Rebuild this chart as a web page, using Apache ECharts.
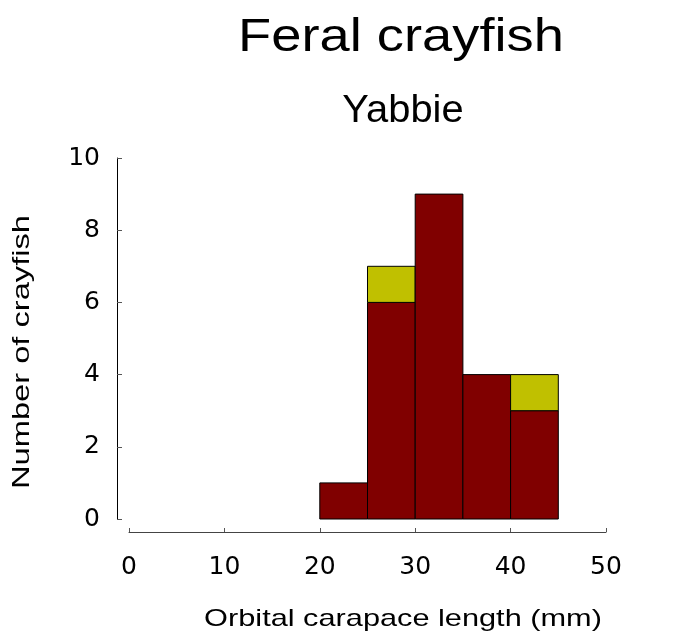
<!DOCTYPE html>
<html>
<head>
<meta charset="utf-8">
<script src="https://cdn.jsdelivr.net/npm/echarts@6/dist/echarts.min.js"></script>
<style>
html,body{margin:0;padding:0;background:#fff;}
#chart{width:688px;height:635px;}
</style>
</head>
<body>
<div id="chart"></div>
<script>
// ---- data ----
var titleText = 'Feral crayfish';
var subtitleText = 'Yabbie';
var xAxisName = 'Orbital carapace length (mm)';
var yAxisName = 'Number of crayfish';
var binStarts = [20, 25, 30, 35, 40];
var binWidth = 5;
var countsRed = [1, 6, 9, 4, 3];
var countsYellow = [0, 1, 0, 0, 1];
var xTicks = [0, 10, 20, 30, 40, 50];
var yTicks = [0, 2, 4, 6, 8, 10];

var redColor = '#800000';
var yellowColor = '#c0c000';

// build stacked rect items: [x0, x1, base, top, colorIndex]
var rects = [];
binStarts.forEach(function (s, i) {
  rects.push([s, s + binWidth, 0, countsRed[i], 0]);
  if (countsYellow[i] > 0) {
    rects.push([s, s + binWidth, countsRed[i], countsRed[i] + countsYellow[i], 1]);
  }
});

var chart = echarts.init(document.getElementById('chart'), null, {renderer: 'canvas'});
var labelFont = 'DejaVu Sans';
var option = {
  backgroundColor: '#ffffff',
  animation: false,
  grid: {left: 129, right: 82, top: 158, bottom: 116},
  xAxis: {
    type: 'value',
    min: xTicks[0], max: xTicks[xTicks.length - 1], interval: 10,
    offset: 13,
    axisLine: {show: true, onZero: false, lineStyle: {color: '#444', width: 1}},
    axisTick: {show: true, inside: true, length: 4, lineStyle: {color: '#555'}},
    axisLabel: {margin: 23, fontFamily: labelFont, fontSize: 25, color: '#000'},
    splitLine: {show: false}
  },
  yAxis: {
    type: 'value',
    min: yTicks[0], max: yTicks[yTicks.length - 1], interval: 2,
    offset: 12,
    axisLine: {show: true, onZero: false, lineStyle: {color: '#000', width: 1}},
    axisTick: {show: true, inside: true, length: 5, lineStyle: {color: '#555'}},
    axisLabel: {margin: 17, fontFamily: labelFont, fontSize: 25, color: '#000'},
    splitLine: {show: false}
  },
  series: [{
    type: 'custom',
    data: rects,
    renderItem: function (params, api) {
      var p0 = api.coord([api.value(0), api.value(3)]);
      var p1 = api.coord([api.value(1), api.value(2)]);
      return {
        type: 'rect',
        shape: {x: p0[0], y: p0[1], width: p1[0] - p0[0], height: p1[1] - p0[1]},
        style: {fill: api.value(4) === 1 ? yellowColor : redColor, stroke: '#000', lineWidth: 1}
      };
    },
    encode: {x: [0, 1], y: [2, 3]}
  }],
  graphic: [
    {type: 'text', x: 401, y: 38, scaleX: 1.18, scaleY: 1,
     style: {text: titleText, font: '46px "Liberation Sans", Arial, sans-serif', fill: '#000', textAlign: 'center', textVerticalAlign: 'middle'}},
    {type: 'text', x: 403, y: 112, scaleX: 1.05, scaleY: 1,
     style: {text: subtitleText, font: '38px "Liberation Sans", Arial, sans-serif', fill: '#000', textAlign: 'center', textVerticalAlign: 'middle'}},
    {type: 'text', x: 403, y: 619, scaleX: 1.28, scaleY: 1,
     style: {text: xAxisName, font: '24px "Liberation Sans", Arial, sans-serif', fill: '#000', textAlign: 'center', textVerticalAlign: 'middle'}},
    {type: 'text', x: 22, y: 352, rotation: Math.PI / 2, scaleX: 1.36, scaleY: 1,
     style: {text: yAxisName, font: '24px "Liberation Sans", Arial, sans-serif', fill: '#000', textAlign: 'center', textVerticalAlign: 'middle'}}
  ]
};
chart.setOption(option);
</script>
</body>
</html>
